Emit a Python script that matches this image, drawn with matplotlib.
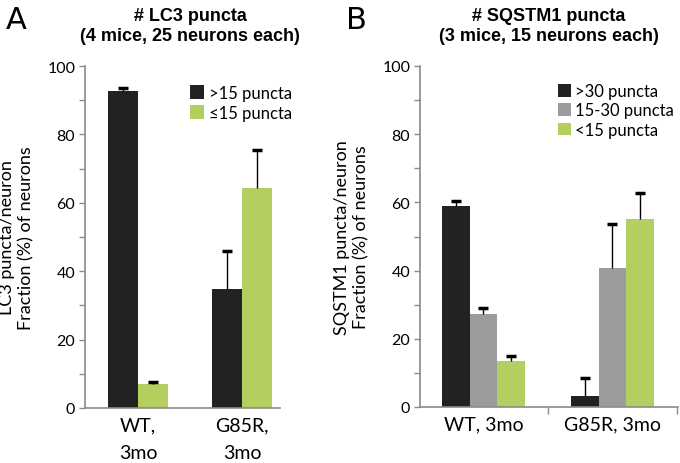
import numpy as np
import matplotlib.pyplot as plt

# panel A data
groups_a = ['WT,\n3mo', 'G85R,\n3mo']
lc3_hi = [92.6, 34.8]
lc3_hi_err = [1.0, 11.0]
lc3_lo = [7.0, 64.4]
lc3_lo_err = [0.6, 11.0]

# panel B data
groups_b = ['WT, 3mo', 'G85R, 3mo']
sq_hi = [58.9, 3.3]
sq_hi_err = [1.5, 5.2]
sq_mid = [27.3, 40.8]
sq_mid_err = [1.8, 12.9]
sq_lo = [13.5, 55.1]
sq_lo_err = [1.6, 7.7]

black = '#222222'
green = '#b4cf5f'
gray = '#9b9c9e'
axcol = '#8a8a8a'
tickfont = 'Lato'

fig = plt.figure(figsize=(6.8, 4.64), dpi=100)


def style_axis(ax, xlim):
    ax.set_xlim(*xlim)
    ax.set_ylim(0, 100)
    ax.set_yticks(np.arange(0, 101, 20))
    ax.set_yticks(np.arange(10, 100, 20), minor=True)
    for s in ['top', 'right']:
        ax.spines[s].set_visible(False)
    for s in ['left', 'bottom']:
        ax.spines[s].set_color(axcol)
        ax.spines[s].set_linewidth(1.2)
    ax.tick_params(axis='y', which='both', colors=axcol, length=4, width=1,
                   labelcolor='black', labelsize=11.5, pad=3)
    ax.tick_params(axis='x', length=0, labelsize=14, pad=6)
    for lab in ax.get_yticklabels() + ax.get_xticklabels():
        lab.set_family(tickfont)


def bars_up(ax, xpos, vals, errs, w, col, lab):
    # bars with one-sided (upper) error bars
    vals = np.array(vals)
    errs = np.array(errs)
    ax.bar(xpos, vals, w, color=col, label=lab)
    ax.errorbar(xpos, vals, yerr=[np.zeros(len(vals)), errs], fmt='none',
                ecolor='black', elinewidth=1, capsize=0)
    ax.plot(xpos, vals + errs, '_', color='black', ms=7, mew=2.5)


# ---- panel A
axA = fig.add_axes([85/680, 1-409/464, 195/680, 342/464])
x = np.arange(len(groups_a))
w = 0.285
bars_up(axA, x - w/2, lc3_hi, lc3_hi_err, w, black, '>15 puncta')
bars_up(axA, x + w/2, lc3_lo, lc3_lo_err, w, green, '≤15 puncta')
axA.set_xticks(x)
axA.set_xticklabels(groups_a, linespacing=1.75)
style_axis(axA, (-0.51, 1.365))
axA.set_ylabel('LC3 puncta/neuron\nFraction (%) of neurons', fontsize=13,
               family=tickfont, linespacing=1.25, labelpad=9)
h, l = axA.get_legend_handles_labels()
axA.legend(h, l, loc='upper left', bbox_to_anchor=(0.54, 0.945), frameon=False,
           prop={'family': tickfont, 'size': 12}, handlelength=0.8, handleheight=0.9,
           handletextpad=0.3, labelspacing=0.25, borderpad=0, borderaxespad=0)
axA.set_title('# LC3 puncta\n(4 mice, 25 neurons each)', fontsize=13, fontweight='bold',
              family='Liberation Sans', pad=19, x=0.54)

# ---- panel B
axB = fig.add_axes([420/680, 1-408/464, 258/680, 341/464])
x = np.arange(len(groups_b))
w = 0.215
bars_up(axB, x - w, sq_hi, sq_hi_err, w, black, '>30 puncta')
bars_up(axB, x, sq_mid, sq_mid_err, w, gray, '15-30 puncta')
bars_up(axB, x + w, sq_lo, sq_lo_err, w, green, '<15 puncta')
axB.set_xticks(x)
axB.set_xticklabels(groups_b)
style_axis(axB, (-0.492, 1.508))
axB.set_xticks([0.5, 1.5], minor=True)
axB.tick_params(axis='x', which='minor', length=5, width=1, color=axcol)
axB.set_ylabel('SQSTM1 puncta/neuron\nFraction (%) of neurons', fontsize=13,
               family=tickfont, linespacing=1.25, labelpad=9)
h, l = axB.get_legend_handles_labels()
axB.legend(h, l, loc='upper left', bbox_to_anchor=(0.535, 0.95), frameon=False,
           prop={'family': tickfont, 'size': 12}, handlelength=0.75, handleheight=0.8,
           handletextpad=0.25, labelspacing=0.2, borderpad=0, borderaxespad=0)
axB.set_title('# SQSTM1 puncta\n(3 mice, 15 neurons each)', fontsize=13, fontweight='bold',
              family='Liberation Sans', pad=19, x=0.5)

fig.text(6/680, 1-6/464, 'A', fontsize=22, va='top', ha='left')
fig.text(346/680, 1-6/464, 'B', fontsize=22, va='top', ha='left')

fig.savefig('out.png', dpi=100)
